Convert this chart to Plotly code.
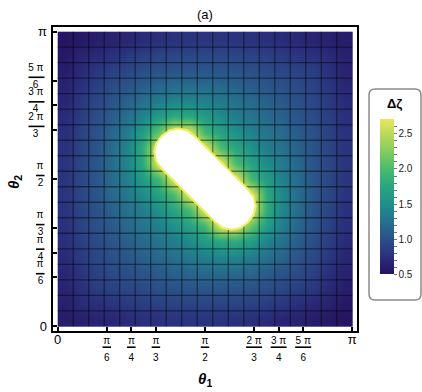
import numpy as np
import plotly.graph_objects as go

# mesh: 19 x 19 cells over [0, pi] x [0, pi]
n_mesh = 19
theta = [(k + 0.5) * np.pi / n_mesh for k in range(n_mesh)]

# delta zeta read at the centre of each mesh cell, rows from theta2 = 0 (bottom) to theta2 = pi (top)
delta_zeta = [
    [0.60, 0.62, 0.65, 0.68, 0.71, 0.74, 0.76, 0.78, 0.79, 0.79, 0.78, 0.76, 0.74, 0.71, 0.67, 0.64, 0.60, 0.56, 0.52],
    [0.62, 0.71, 0.75, 0.79, 0.83, 0.87, 0.89, 0.91, 0.92, 0.93, 0.92, 0.91, 0.89, 0.86, 0.81, 0.75, 0.70, 0.65, 0.56],
    [0.65, 0.75, 0.85, 0.89, 0.92, 0.95, 0.99, 1.01, 1.03, 1.04, 1.04, 1.03, 1.01, 0.97, 0.93, 0.87, 0.81, 0.70, 0.60],
    [0.68, 0.79, 0.89, 0.95, 0.99, 1.03, 1.08, 1.13, 1.18, 1.21, 1.22, 1.21, 1.17, 1.10, 1.02, 0.96, 0.87, 0.75, 0.64],
    [0.71, 0.83, 0.92, 0.99, 1.05, 1.12, 1.19, 1.25, 1.32, 1.37, 1.43, 1.42, 1.35, 1.25, 1.14, 1.02, 0.93, 0.81, 0.67],
    [0.74, 0.87, 0.95, 1.03, 1.12, 1.20, 1.28, 1.35, 1.47, 1.65, 1.79, 1.82, 1.66, 1.41, 1.25, 1.10, 0.97, 0.86, 0.71],
    [0.76, 0.89, 0.99, 1.08, 1.19, 1.28, 1.37, 1.53, 1.71, 1.94, 2.71, 2.71, 2.11, 1.66, 1.35, 1.17, 1.01, 0.89, 0.74],
    [0.78, 0.91, 1.01, 1.13, 1.25, 1.35, 1.53, 1.75, 1.99, 2.71, 2.71, 2.71, 2.71, 1.82, 1.42, 1.21, 1.03, 0.91, 0.76],
    [0.79, 0.92, 1.03, 1.18, 1.32, 1.47, 1.71, 1.99, 2.71, 2.71, 2.71, 2.71, 2.71, 1.79, 1.43, 1.22, 1.04, 0.92, 0.78],
    [0.79, 0.93, 1.04, 1.21, 1.37, 1.65, 1.94, 2.71, 2.71, 2.71, 2.71, 2.71, 1.94, 1.65, 1.37, 1.21, 1.04, 0.93, 0.79],
    [0.78, 0.92, 1.04, 1.22, 1.43, 1.79, 2.71, 2.71, 2.71, 2.71, 2.71, 1.99, 1.71, 1.47, 1.32, 1.18, 1.03, 0.92, 0.79],
    [0.76, 0.91, 1.03, 1.21, 1.42, 1.82, 2.71, 2.71, 2.71, 2.71, 1.99, 1.75, 1.53, 1.35, 1.25, 1.13, 1.01, 0.91, 0.78],
    [0.74, 0.89, 1.01, 1.17, 1.35, 1.66, 2.11, 2.71, 2.71, 1.94, 1.71, 1.53, 1.37, 1.28, 1.19, 1.08, 0.99, 0.89, 0.76],
    [0.71, 0.86, 0.97, 1.10, 1.25, 1.41, 1.66, 1.82, 1.79, 1.65, 1.47, 1.35, 1.28, 1.20, 1.12, 1.03, 0.95, 0.87, 0.74],
    [0.67, 0.81, 0.93, 1.02, 1.14, 1.25, 1.35, 1.42, 1.43, 1.37, 1.32, 1.25, 1.19, 1.12, 1.05, 0.99, 0.92, 0.83, 0.71],
    [0.64, 0.75, 0.87, 0.96, 1.02, 1.10, 1.17, 1.21, 1.22, 1.21, 1.18, 1.13, 1.08, 1.03, 0.99, 0.95, 0.89, 0.79, 0.68],
    [0.60, 0.70, 0.81, 0.87, 0.93, 0.97, 1.01, 1.03, 1.04, 1.04, 1.03, 1.01, 0.99, 0.95, 0.92, 0.89, 0.85, 0.75, 0.65],
    [0.56, 0.65, 0.70, 0.75, 0.81, 0.86, 0.89, 0.91, 0.92, 0.93, 0.92, 0.91, 0.89, 0.87, 0.83, 0.79, 0.75, 0.71, 0.62],
    [0.52, 0.56, 0.60, 0.64, 0.67, 0.71, 0.74, 0.76, 0.78, 0.79, 0.79, 0.78, 0.76, 0.74, 0.71, 0.68, 0.65, 0.62, 0.60],
]

# outline of the white region where there is no value
blob_t1 = [1.46, 1.38, 1.28, 1.19, 1.11, 1.05, 1.03, 1.05, 1.11, 1.68, 1.76, 1.86, 1.95, 2.03, 2.09, 2.11, 2.09, 2.03, 1.46]
blob_t2 = [2.03, 2.09, 2.11, 2.09, 2.03, 1.95, 1.86, 1.76, 1.68, 1.11, 1.05, 1.03, 1.05, 1.11, 1.19, 1.28, 1.38, 1.46, 2.03]

tick_vals = [0, np.pi/6, np.pi/4, np.pi/3, np.pi/2, 2*np.pi/3, 3*np.pi/4, 5*np.pi/6, np.pi]
tick_num = ["0", "π", "π", "π", "π", "2 π", "3 π", "5 π", "π"]
tick_den = ["", "6", "4", "3", "2", "3", "4", "6", ""]

cbar_vals = [0.5, 0.6, 0.7, 0.8, 0.9, 1.0, 1.1, 1.2, 1.3, 1.4, 1.5, 1.6, 1.7, 1.8, 1.9, 2.0, 2.1, 2.2, 2.3, 2.4, 2.5, 2.6]
cbar_labels = ["0.5", "1.0", "1.5", "2.0", "2.5"]

zmin, zmax = 0.5, 2.71
cscale = [
    [0.00, "#25125f"], [0.11, "#2a2f7c"], [0.23, "#2b5289"], [0.34, "#26718d"],
    [0.45, "#1f8e8b"], [0.57, "#2aa680"], [0.68, "#4dbb6e"], [0.79, "#82cb60"],
    [0.90, "#b9d95a"], [1.00, "#e9e65f"],
]

FONT = "Liberation Sans"


def frac(num, den, pad=""):
    return ("<span style='font-size:10px'>%s</span><br>"
            "<span style='font-size:10px'>%s%s</span>" % (num, den, pad))


xtext, ytext = [], []
for nu, de in zip(tick_num, tick_den):
    if de:
        xtext.append(frac(nu, de))
        ytext.append(frac(nu, de, "\u2002" if len(nu) > 1 else ""))
    else:
        xtext.append(nu)
        ytext.append("")   # 0 and pi go on the overlay axis (no shift)

cbar_text = [("%.1f" % v if "%.1f" % v in cbar_labels else "") for v in cbar_vals]

fig = go.Figure()

fig.add_trace(go.Heatmap(
    x=theta, y=theta, z=delta_zeta, zsmooth="best",
    zmin=zmin, zmax=zmax, colorscale=cscale, hoverinfo="skip",
    colorbar=dict(
        x=1.0757, xanchor="left", xpad=0, y=0.4418, yanchor="middle",
        len=155, lenmode="pixels", thickness=14, ypad=0, outlinewidth=0,
        tickvals=cbar_vals, ticktext=cbar_text, ticks="outside", ticklen=3,
        tickcolor="#777", tickfont=dict(family=FONT, size=10, color="#222"),
    ),
))

# mesh lines
mx, my = [], []
for k in range(1, n_mesh):
    p = k * np.pi / n_mesh
    mx += [p, p, None, 0, np.pi, None]
    my += [0, np.pi, None, p, p, None]
fig.add_trace(go.Scatter(x=mx, y=my, mode="lines", hoverinfo="skip", showlegend=False,
                         line=dict(color="rgba(0,0,0,0.45)", width=1.3)))

fig.add_trace(go.Scatter(x=blob_t1, y=blob_t2, mode="lines", fill="toself", fillcolor="white",
                         hoverinfo="skip", showlegend=False,
                         line=dict(color="#f1ee62", width=2)))

# empty trace so the overlay y axis gets drawn
fig.add_trace(go.Scatter(x=[], y=[], yaxis="y2", showlegend=False, hoverinfo="skip"))

shapes = []
for v, nu, de in zip(tick_vals, tick_num, tick_den):
    if not de:
        continue
    w = 16 if len(nu) > 1 else 8.5
    shapes.append(dict(type="line", xref="x", yref="paper", xsizemode="pixel", ysizemode="pixel",
                       xanchor=v, yanchor=0, x0=-w/2, x1=w/2, y0=-16.2, y1=-16.2,
                       line=dict(color="black", width=1.6)))
    shapes.append(dict(type="line", xref="paper", yref="y", xsizemode="pixel", ysizemode="pixel",
                       xanchor=0, yanchor=v, x0=-8.5 - w, x1=-8.5, y0=3.5, y1=3.5,
                       line=dict(color="black", width=1.6)))

# rounded box around the colour bar (pixel edges -> paper coords)
bx0, bx1 = (369 - 53) / 304, (421 - 53) / 304
by0, by1 = (331 - 300) / 304, (331 - 89) / 304
r = 6 / 304
path = ("M %f,%f L %f,%f Q %f,%f %f,%f L %f,%f Q %f,%f %f,%f L %f,%f Q %f,%f %f,%f L %f,%f Q %f,%f %f,%f Z" % (
    bx0 + r, by1, bx1 - r, by1, bx1, by1, bx1, by1 - r, bx1, by0 + r, bx1, by0, bx1 - r, by0,
    bx0 + r, by0, bx0, by0, bx0, by0 + r, bx0, by1 - r, bx0, by1, bx0 + r, by1))
shapes.append(dict(type="path", xref="paper", yref="paper", path=path,
                   line=dict(color="#8a8a8a", width=1.5)))

rng = [-0.05, np.pi + 0.05]
axis = dict(range=rng, tickvals=tick_vals, tickangle=0, automargin=False,
            ticks="inside", ticklen=4, tickwidth=1.5, tickcolor="black",
            showline=True, linewidth=2, linecolor="black", mirror=True,
            showgrid=False, zeroline=False,
            tickfont=dict(family=FONT, size=13, color="black"))

ends = [v for v, de in zip(tick_vals, tick_den) if not de]
ends_text = [nu for nu, de in zip(tick_num, tick_den) if not de]

fig.update_layout(
    width=422, height=392,
    margin=dict(l=53, r=65, t=27, b=61, autoexpand=False),
    paper_bgcolor="white", plot_bgcolor="white",
    font=dict(family=FONT, color="black"),
    xaxis=dict(axis, ticktext=xtext, ticklabelstandoff=-5),
    yaxis=dict(axis, ticktext=ytext, ticklabelstandoff=5, ticklabelshift=-6),
    yaxis2=dict(overlaying="y", anchor="x", side="left", range=rng, automargin=False,
                tickvals=ends, ticktext=ends_text, ticks="", showline=False,
                showgrid=False, zeroline=False, ticklabelstandoff=5,
                tickfont=dict(family=FONT, size=13, color="black")),
    shapes=shapes,
    annotations=[
        dict(text="(a)", xref="paper", yref="paper", x=0.5, y=(331 - 15) / 304, showarrow=False,
             font=dict(size=13), xanchor="center", yanchor="middle"),
        dict(text="<b><i>θ</i><sub>1</sub></b>", xref="paper", yref="paper", x=0.5, y=(331 - 379) / 304,
             showarrow=False, font=dict(size=15), xanchor="center", yanchor="middle"),
        dict(text="<b><i>θ</i><sub>2</sub></b>", xref="paper", yref="paper", x=(14 - 53) / 304,
             y=(331 - 182) / 304, showarrow=False, font=dict(size=15), textangle=-90,
             xanchor="center", yanchor="middle"),
        dict(text="<b>Δζ</b>", xref="paper", yref="paper", x=(394 - 53) / 304, y=(331 - 103) / 304,
             showarrow=False, font=dict(size=13), xanchor="center", yanchor="middle"),
    ],
)

fig.write_html("out.html", config={"displayModeBar": False},
               post_script="document.body.style.margin = '0';")
